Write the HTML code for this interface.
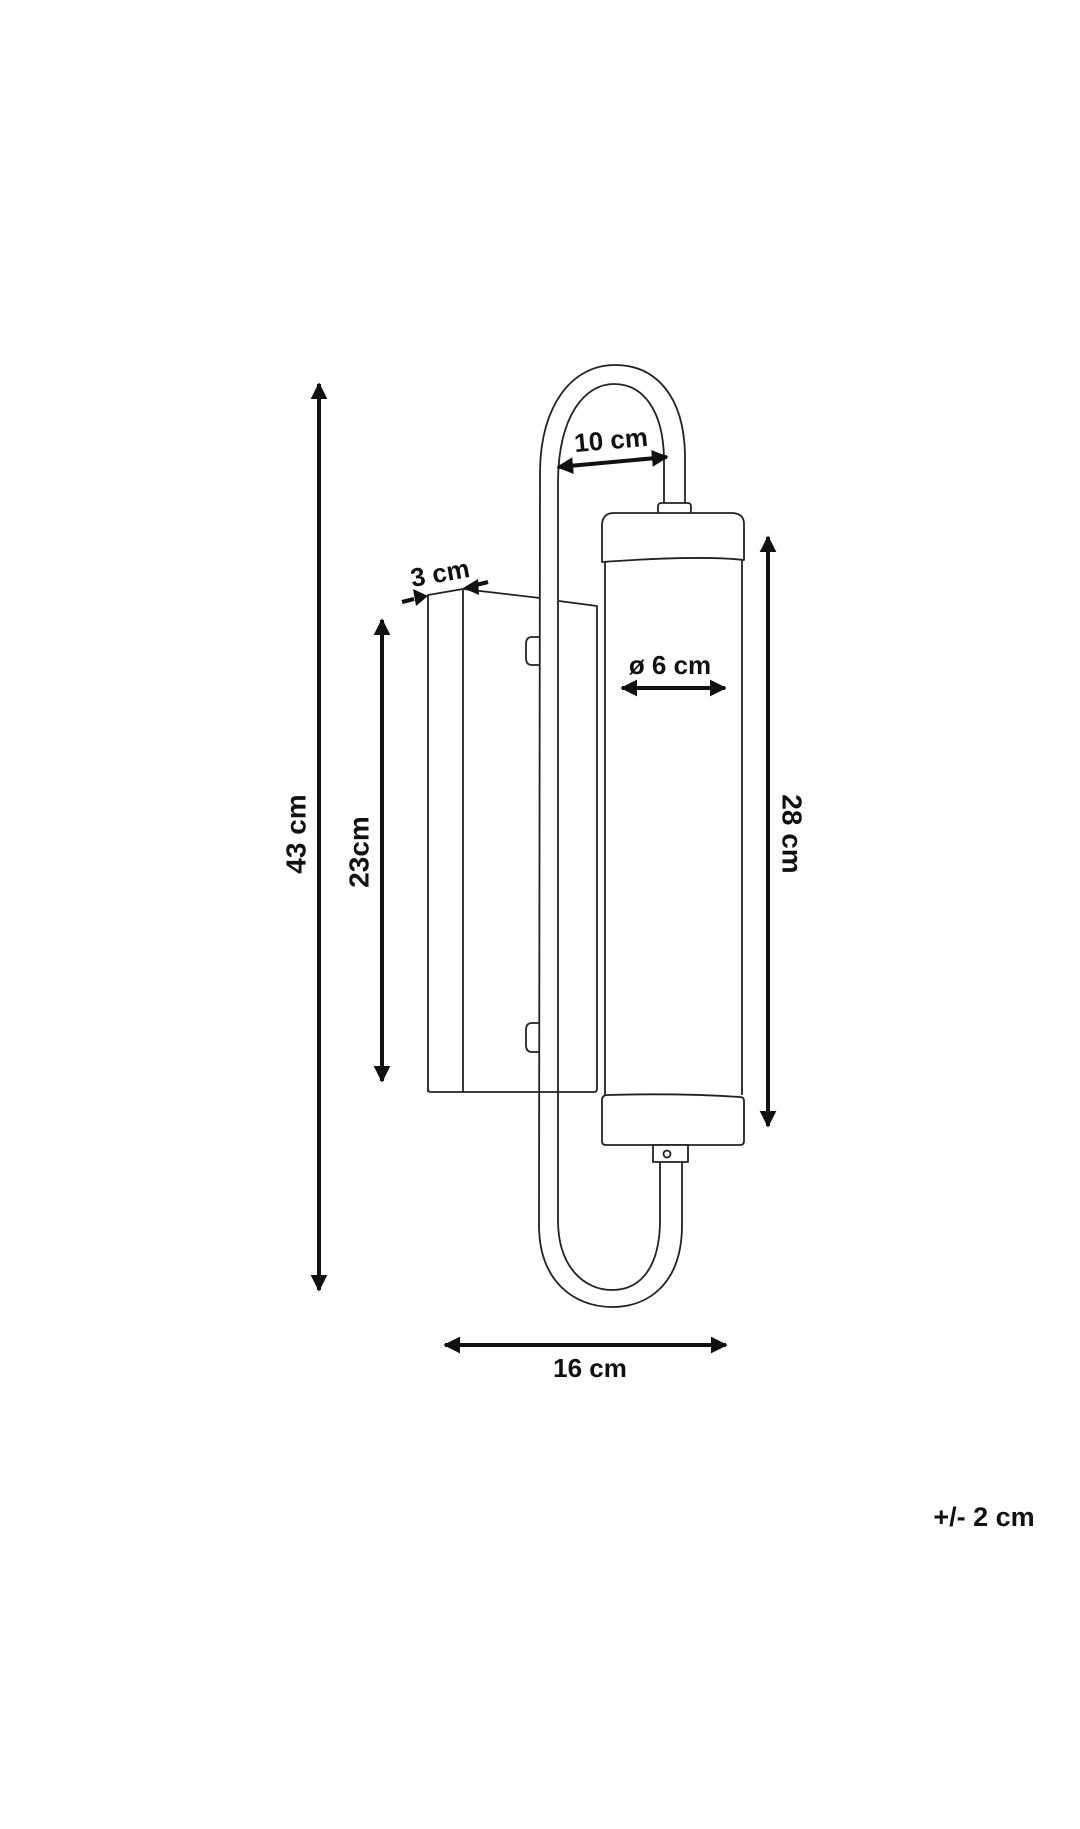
<!DOCTYPE html>
<html><head><meta charset="utf-8"><style>
html,body{margin:0;padding:0;background:#fff;}
svg{display:block;}
text{font-family:"Liberation Sans",sans-serif;font-weight:bold;fill:#111;}
</style></head><body>
<svg width="1080" height="1829" viewBox="0 0 1080 1829" xmlns="http://www.w3.org/2000/svg">
<defs>
<marker id="ah" viewBox="0 0 10 10" refX="9" refY="5" markerWidth="4.2" markerHeight="4.2" orient="auto-start-reverse" markerUnits="strokeWidth">
<path d="M0,0 L10,5 L0,10 z" fill="#111"/>
</marker>
</defs>
<g fill="none" stroke="#222" stroke-width="1.8" stroke-linejoin="round">
<!-- backplate -->
<path d="M428,1092 L428,595 L463,589 L540,598"/>
<path d="M559,601 L597,606 L597,1089 Q597,1092 594,1092 L431,1092 Q428,1092 428,1089"/>
<line x1="463" y1="589" x2="463" y2="1092"/>
<!-- knobs -->
<path d="M540,637 L532,637 Q526,637 526,644 L526,658 Q526,665 532,665 L540,665"/>
<path d="M540,1023 L532,1023 Q526,1023 526,1030 L526,1045 Q526,1052 532,1052 L540,1052"/>
<!-- arm outer -->
<path d="M685,503 L685,455 C684,395 655,365 615,365 C572,365 541,405 540,470 L539,1225 C539,1282 575,1307 612,1307 C650,1307 682,1282 682,1225 L682,1162"/>
<!-- arm inner -->
<path d="M664,503 L664,458 C663,410 643,384 614,384 C585,384 559,415 558,480 L558,1220 C558,1268 585,1290 612,1290 C640,1290 660,1268 660,1220 L660,1162"/>
<!-- top connector -->
<rect x="658" y="503" width="33" height="11" rx="3" fill="#fff"/>
<!-- top cap -->
<path d="M602,560 L602,524 Q603,513 614,513 L733,513 Q744,514 744,524 L744,560 Q700,555 602,562 Z" fill="#fff"/>
<!-- tube -->
<path d="M605,561 L605,1095 M742,559 L742,1095"/>
<!-- bottom cap -->
<path d="M602,1099 Q603,1095 607,1095 Q680,1093 740,1097 Q744,1097 744,1101 L744,1141 Q744,1145 740,1145 L606,1145 Q602,1145 602,1141 Z" fill="#fff"/>
<!-- bottom connector -->
<rect x="653" y="1145" width="35" height="17" fill="#fff"/>
<circle cx="667" cy="1154" r="3.5"/>
</g>
<!-- dimension lines -->
<g stroke="#111" stroke-width="4" fill="none">
<line x1="319" y1="384" x2="319" y2="1290" marker-start="url(#ah)" marker-end="url(#ah)"/>
<line x1="382" y1="620" x2="382" y2="1081" marker-start="url(#ah)" marker-end="url(#ah)"/>
<line x1="768" y1="537" x2="768" y2="1126" marker-start="url(#ah)" marker-end="url(#ah)"/>
<line x1="445" y1="1345" x2="726" y2="1345" marker-start="url(#ah)" marker-end="url(#ah)"/>
<line x1="558" y1="467" x2="667" y2="457" marker-start="url(#ah)" marker-end="url(#ah)"/>
<line x1="622" y1="688" x2="725" y2="688" marker-start="url(#ah)" marker-end="url(#ah)"/>
<line x1="402" y1="602" x2="414" y2="599"/>
<line x1="488" y1="582" x2="476" y2="585"/>
</g>
<polygon points="428,596 413,589 416,606" fill="#111"/>
<polygon points="463,588 478,579 479,595" fill="#111"/>
<g font-size="28" text-anchor="middle" dominant-baseline="central">
<text x="296" y="834" transform="rotate(-90 296 834)">43 cm</text>
<text x="359" y="852" transform="rotate(-90 359 852)">23cm</text>
<text x="792" y="834" transform="rotate(90 792 834)">28 cm</text>
<text x="590" y="1368" font-size="26">16 cm</text>
<text x="611" y="440" font-size="26" transform="rotate(-5 611 440)">10 cm</text>
<text x="440" y="573" font-size="26" transform="rotate(-10 440 573)">3 cm</text>
<text x="670" y="665" font-size="26">ø 6 cm</text>
<text x="984" y="1517" font-size="27">+/- 2 cm</text>
</g>
</svg>
</body></html>
